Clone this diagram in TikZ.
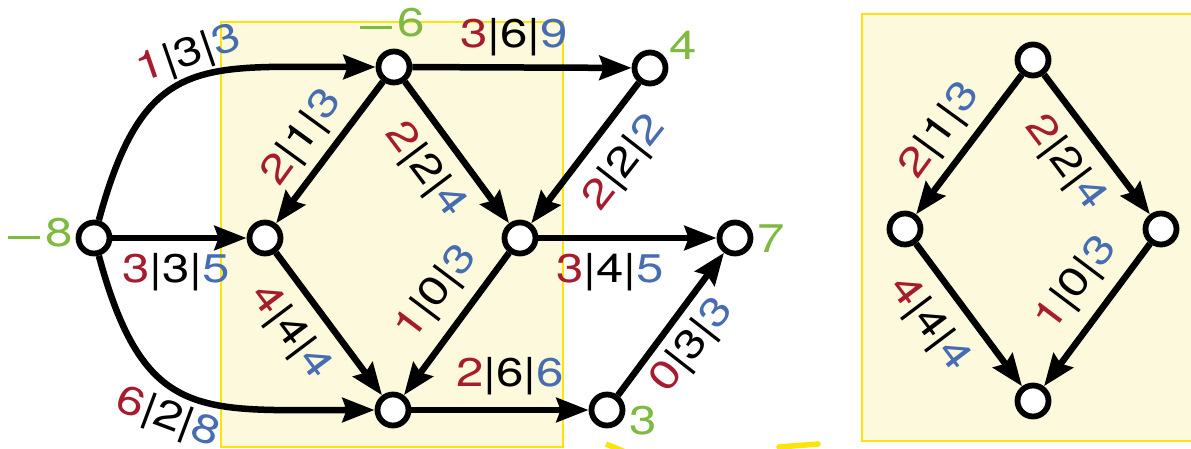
\documentclass[tikz,border=0pt]{standalone}
\usepackage{fontspec}
\setmainfont{TeX Gyre Heros}
\usepackage{graphicx}
\usetikzlibrary{arrows.meta}
\definecolor{fred}{RGB}{166,28,46}
\definecolor{fblue}{RGB}{70,108,178}
\definecolor{fgreen}{RGB}{126,186,64}
\definecolor{yfill}{RGB}{253,249,220}
\definecolor{yline}{RGB}{250,228,10}
\newcommand{\flw}[3]{\scalebox{1.23}[1]{\textcolor{fred}{#1}\smash{|}#2\smash{|}\textcolor{fblue}{#3}}}
\newcommand{\gn}[1]{\textcolor{fgreen}{\scalebox{1.23}[1]{#1}}}
\newcommand{\gneg}[1]{\textcolor{fgreen}{\rule[7.8pt]{32pt}{3pt}\hspace{5pt}\scalebox{1.23}[1]{#1}}}
\begin{document}
\begin{tikzpicture}[x=1pt,y=1pt,
  vtx/.style={circle, draw, line width=5.8pt, fill=white, minimum size=31pt, inner sep=0pt},
  arc/.style={line width=6.5pt, -{Stealth[length=32pt,width=24pt,inset=4pt]}},
  lab/.style={inner sep=0pt, font=\fontsize{40}{48}\selectfont},
  box/.style={draw=yline, fill=yfill, line width=2.6pt},
  ystroke/.style={draw=yline, line width=5.5pt}]
\useasboundingbox (0,0) rectangle (1191,449);
% background panels
\draw[box] (221,2) rectangle (563,427);
\draw[box] (862,8) rectangle (1200,435);
\draw[ystroke] (606,5) -- (630,-5);
\draw[ystroke, line cap=round] (779,2) -- (818,5);
% left graph nodes
\node[vtx] (s) at (94,211) {};
\node[vtx] (a) at (265,211) {};
\node[vtx] (t) at (394,382) {};
\node[vtx] (f) at (650,381) {};
\node[vtx] (c) at (520,211) {};
\node[vtx] (g) at (735,211) {};
\node[vtx] (d) at (393,39) {};
\node[vtx] (h) at (607,39) {};
% right graph nodes
\node[vtx] (T) at (1033,389) {};
\node[vtx] (L) at (905,220) {};
\node[vtx] (R) at (1161,220) {};
\node[vtx] (B) at (1033,48) {};
% edges
\draw[arc] (s) .. controls (144,395) and (200,382) .. (t);
\draw[arc] (s) -- (a);
\draw[arc] (s) .. controls (144,27) and (200,39) .. (d);
\draw[arc] (t) -- (a);
\draw[arc] (t) -- (c);
\draw[arc] (t) -- (f);
\draw[arc] (f) -- (c);
\draw[arc] (a) -- (d);
\draw[arc] (c) -- (d);
\draw[arc] (c) -- (g);
\draw[arc] (d) -- (h);
\draw[arc] (h) -- (g);
\draw[arc] (T) -- (L);
\draw[arc] (T) -- (R);
\draw[arc] (L) -- (B);
\draw[arc] (R) -- (B);
% edge labels, left graph
\node[lab, rotate=19] (e1) at (188,397) {\flw{1}{3}{3}};
\node[lab, rotate=-20.5] (e2) at (169,34) {\flw{6}{2}{8}};
\node[lab, anchor=base] (e3) at (176,166) {\flw{3}{3}{5}};
\node[lab, anchor=base] (e4) at (514,401) {\flw{3}{6}{9}};
\node[lab, rotate=54] (e5) at (300,313) {\flw{2}{1}{3}};
\node[lab, rotate=-53] (e6) at (428,281) {\flw{2}{2}{4}};
\node[lab, rotate=52] (e7) at (622,288) {\flw{2}{2}{2}};
\node[lab, rotate=-53] (e8) at (293,119) {\flw{4}{4}{4}};
\node[lab, rotate=53] (e9) at (434,158) {\flw{1}{0}{3}};
\node[lab, anchor=base] (e10) at (610,166) {\flw{3}{4}{5}};
\node[lab, anchor=base] (e11) at (510,62) {\flw{2}{6}{6}};
\node[lab, rotate=52] (e12) at (690,105) {\flw{0}{3}{3}};
% edge labels, right graph
\node[lab, rotate=54] (r1) at (938,320) {\flw{2}{1}{3}};
\node[lab, rotate=-53] (r2) at (1068,288) {\flw{2}{2}{4}};
\node[lab, rotate=-53] (r3) at (932,127) {\flw{4}{4}{4}};
\node[lab, rotate=53] (r4) at (1074,167) {\flw{1}{0}{3}};
% node values
\node[lab, anchor=base west] (vs) at (8,202) {\gneg{8}};
\node[lab, anchor=base west] (vt) at (360,412) {\gneg{6}};
\node[lab, anchor=base] (vf) at (683,389) {\gn{4}};
\node[lab, anchor=base] (vg) at (771,196) {\gn{7}};
\node[lab, anchor=base] (vh) at (643,14) {\gn{3}};
\end{tikzpicture}
\end{document}
